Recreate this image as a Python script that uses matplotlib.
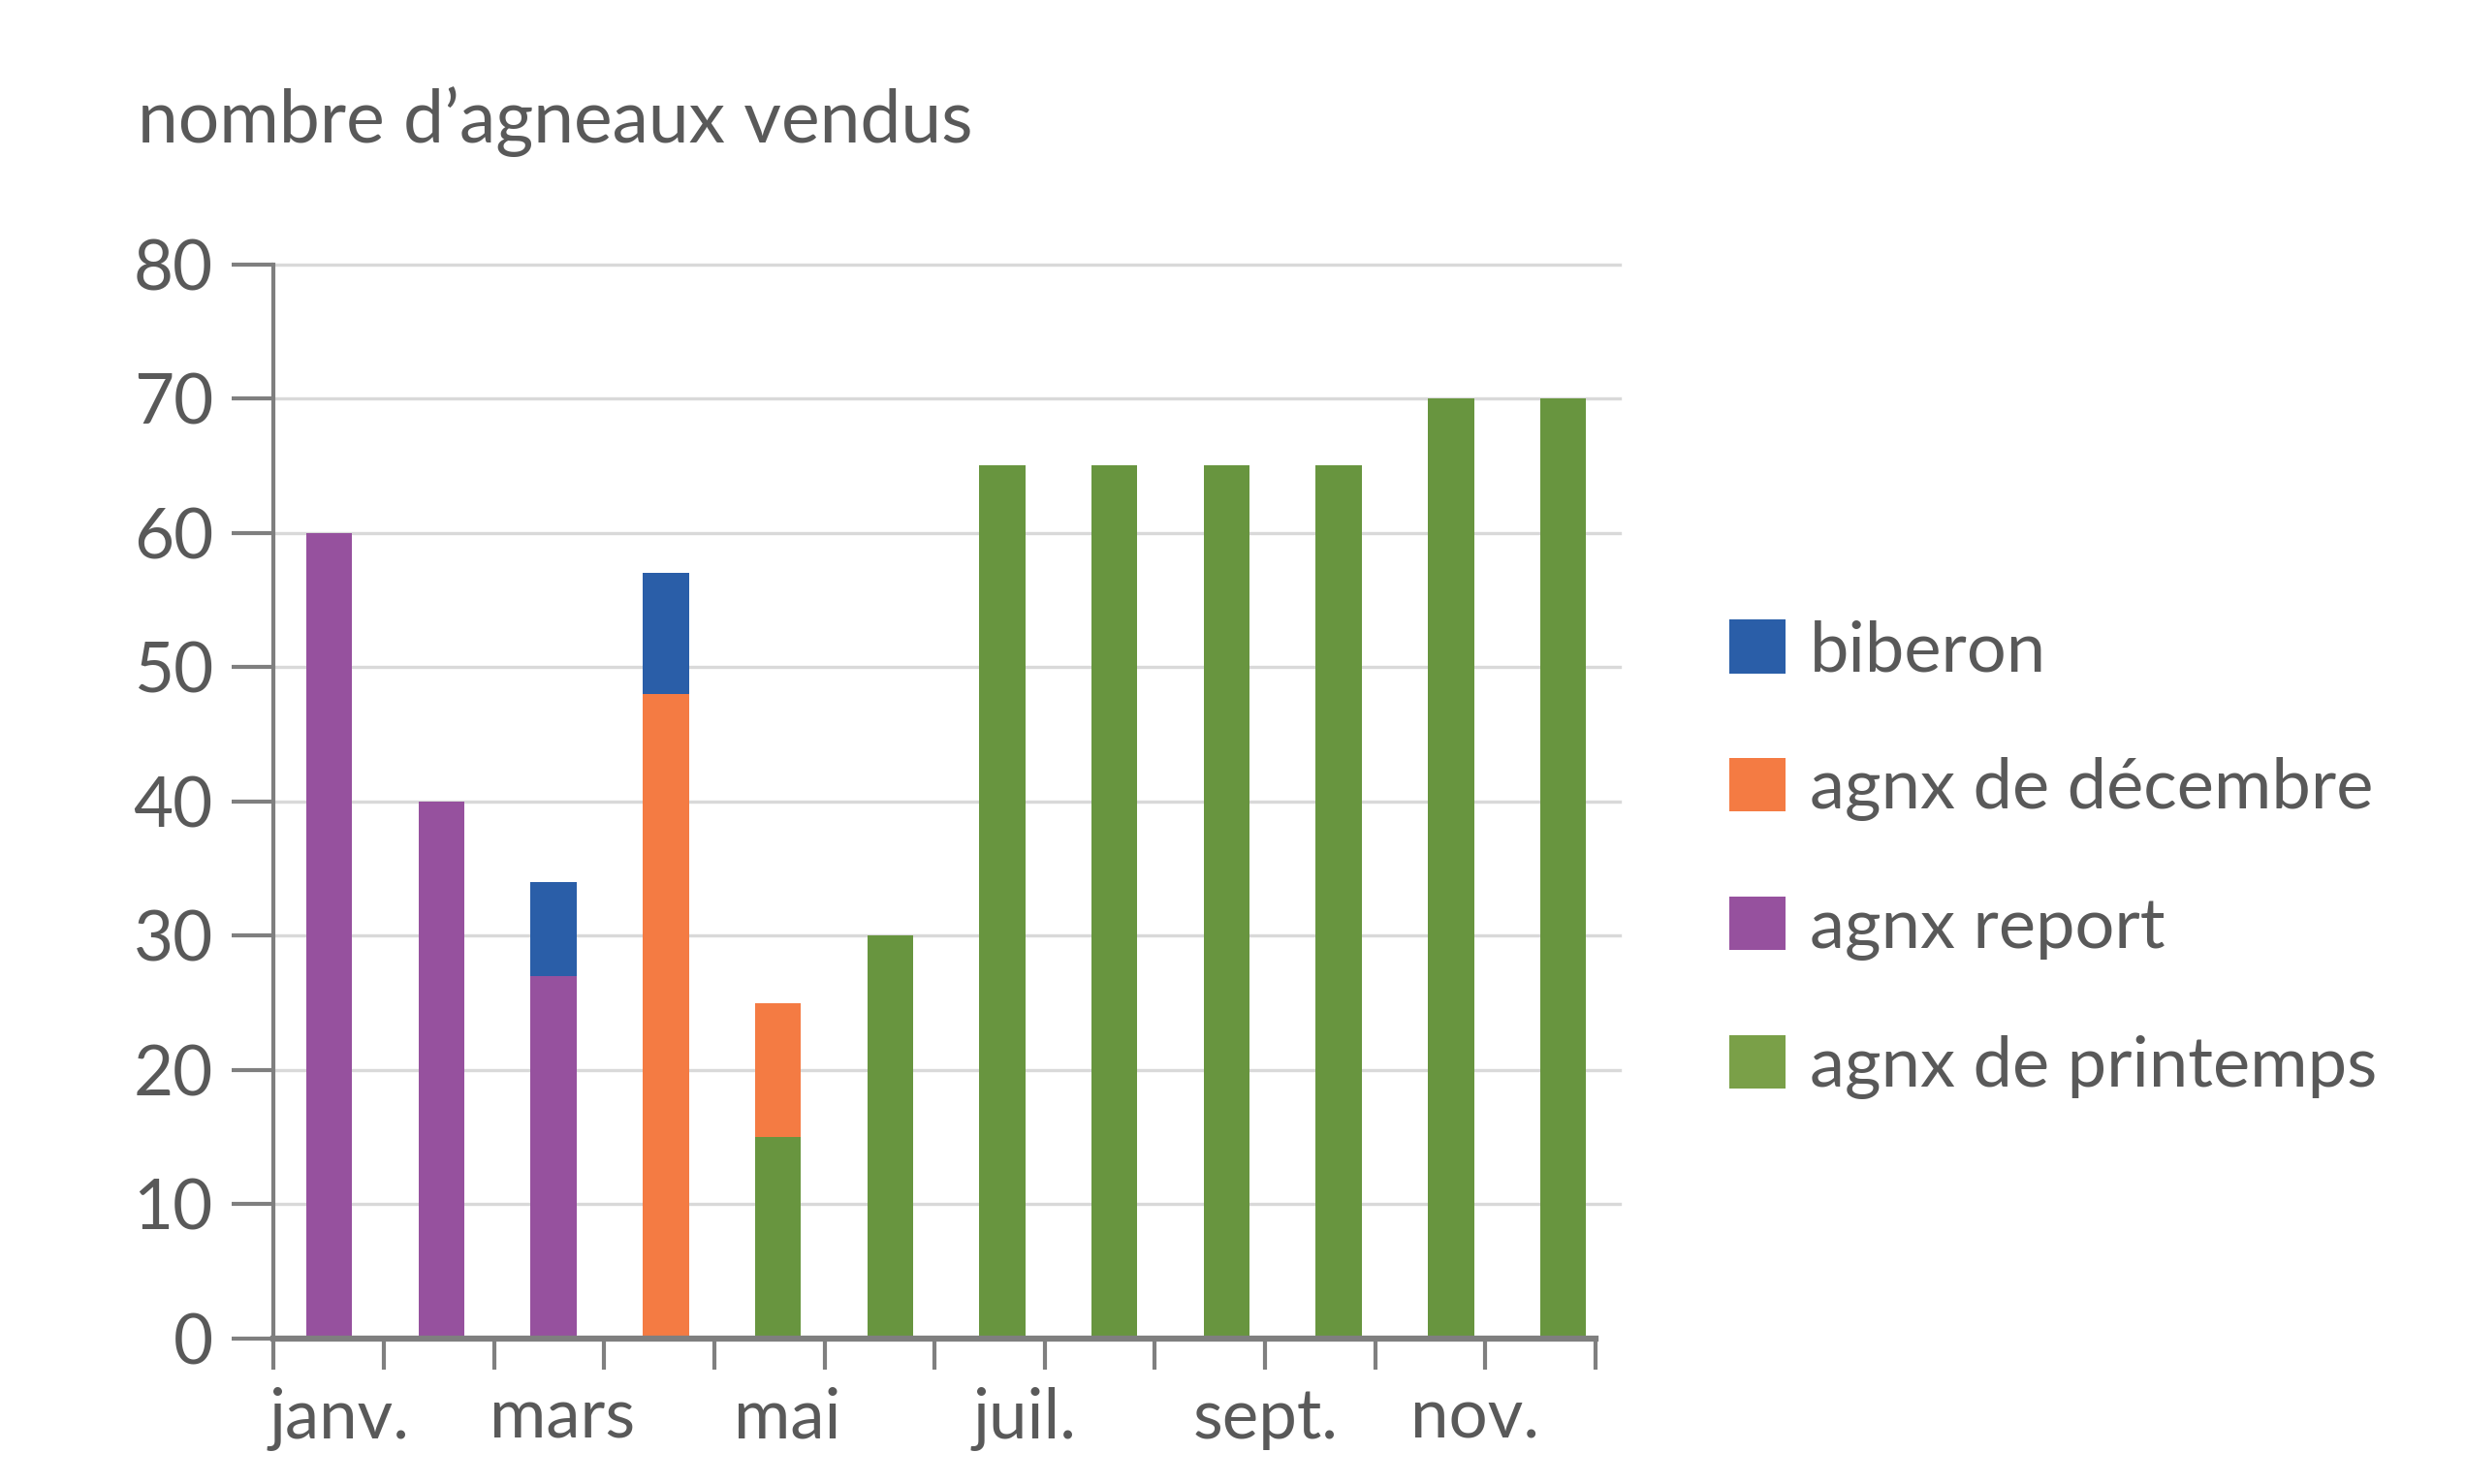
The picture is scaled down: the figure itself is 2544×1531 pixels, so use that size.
import numpy as np
import matplotlib.pyplot as plt
from matplotlib.patches import Patch

plt.rcParams['font.family'] = ['Lato', 'DejaVu Sans']

months = ["janv.", "févr.", "mars", "avr.", "mai", "juin",
          "juil.", "août", "sept.", "oct.", "nov.", "déc."]
shown_labels = ["janv.", "mars", "mai", "juil.", "sept.", "nov."]

# stacked from bottom to top
printemps = [0, 0, 0, 0, 15, 30, 65, 65, 65, 65, 70, 70]
report = [60, 40, 27, 0, 0, 0, 0, 0, 0, 0, 0, 0]
decembre = [0, 0, 0, 48, 10, 0, 0, 0, 0, 0, 0, 0]
biberon = [0, 0, 7, 9, 0, 0, 0, 0, 0, 0, 0, 0]

series = [("agnx de printemps", printemps, "#68953f", "#7aa048"),
          ("agnx report", report, "#96519e", "#96519e"),
          ("agnx de décembre", decembre, "#f47b43", "#f47b43"),
          ("biberon", biberon, "#2a5ea8", "#2a5ea8")]

text_col = "#595959"
axis_col = "#7f7f7f"
grid_col = "#d9d9d9"

fig = plt.figure(figsize=(25.44, 15.31), dpi=100)
ax = fig.add_axes([0.111, 0.098, 0.536, 0.724])

x = np.arange(len(months))
bottom = np.zeros(len(months))
for name, vals, col, _ in series:
    vals = np.array(vals, dtype=float)
    ax.bar(x, vals, width=0.41, bottom=bottom, color=col, zorder=3)
    bottom += vals

# the date axis ticks don't line up exactly with the bar slots
x0, x1 = -0.495, 11.288
ax.set_xlim(x0, x1)
ax.set_ylim(0, 80)
ax.set_yticks(range(0, 81, 10))
for v in range(10, 81, 10):
    ax.axhline(v, xmin=0, xmax=1.018, color=grid_col, lw=2.4, zorder=1, clip_on=False)

ax.set_xticks(np.linspace(x0, x1, 13))
ax.set_xticklabels([])
ax.set_xticks([0.09, 2.08, 4.08, 6.2, 8.35, 10.21], minor=True)
ax.set_xticklabels(shown_labels, minor=True)
ax.tick_params(axis='x', which='major', length=23, width=3, color=axis_col, direction='out')
ax.tick_params(axis='x', which='minor', length=0, pad=36, labelsize=51, labelcolor=text_col)
ax.tick_params(axis='y', length=31, width=3, color=axis_col, pad=14,
               labelsize=51, labelcolor=text_col)

for s in ['top', 'right']:
    ax.spines[s].set_visible(False)
ax.spines['left'].set_color(axis_col)
ax.spines['left'].set_linewidth(3)
ax.spines['bottom'].set_color(axis_col)
ax.spines['bottom'].set_linewidth(4.5)
ax.spines['bottom'].set_zorder(4)

fig.text(0.056, 0.918, "nombre d\u2019agneaux vendus", fontsize=54, color=text_col,
         va='center', ha='left')

handles = [Patch(facecolor=lc, label=name) for name, _, _, lc in series[::-1]]
fig.legend(handles=handles, loc='center left', bbox_to_anchor=(0.69, 0.421),
           frameon=False, fontsize=52, labelcolor=text_col,
           handlelength=0.8, handleheight=0.8, handletextpad=0.35,
           labelspacing=1.07, borderaxespad=0)

fig.savefig("out.png", dpi=100, facecolor="white")
